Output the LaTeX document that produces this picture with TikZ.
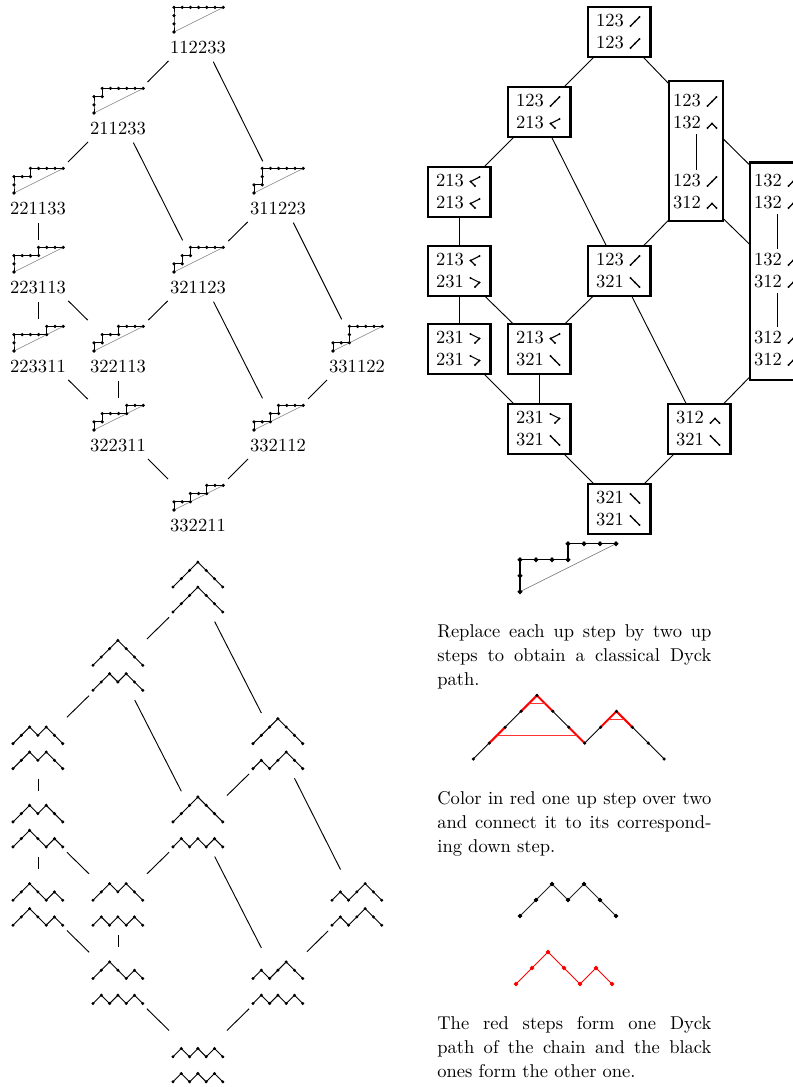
\documentclass[tikz,border=0pt]{standalone}
\pgfdeclarelayer{bg}
\pgfsetlayers{bg,main}
\tikzset{
  lab/.style={inner sep=0pt, font=\fontsize{10}{12}\selectfont},
  lbox/.style={draw=none, minimum width=32.4pt, minimum height=29.16pt, inner sep=0pt, outer sep=0pt},
  dbox/.style={draw=none, minimum width=28.08pt, minimum height=31.32pt, inner sep=0pt, outer sep=0pt},
  edge/.style={line width=0.5pt, shorten <=2.2pt, shorten >=2.2pt},
  redge/.style={line width=0.5pt},
  pbox/.style={draw, line width=1.6pt, fill=white, minimum width=33.5pt, minimum height=27pt, inner sep=0pt},
  tallbox/.style={draw, line width=1.6pt, fill=white, inner sep=0pt},
  itm/.style={draw=none, minimum width=26pt, minimum height=24pt, inner sep=0pt, outer sep=0pt},
  latline/.style={line width=0.5pt},
  diag/.style={gray, line width=0.3pt},
  symline/.style={line width=0.6pt},
  para/.style={text width=148pt, align=justify, inner sep=0pt, anchor=north west, font=\fontsize{10}{13}\selectfont},
}
% small rational path above a label
\newcommand\lnode[5]{%
  \node[lab] (#1) at (#2,#3) {#4};
  \node[lbox] (#1b) at (#2,{#3-17}) {};
  \begin{scope}[shift={({#2-24},{#3-16})},x=4.43pt,y=4.43pt]
    \draw[diag] (0,0) -- (6,3);
    \draw[latline] plot[mark=*,mark size=0.6pt] coordinates {#5};
  \end{scope}}
% two Dyck paths
\newcommand\dnode[5]{%
  \node[dbox] (#1) at (#2,{#3-23}) {};
  \begin{scope}[shift={({#2-25},{#3-25})},x=4.48pt,y=4.48pt]
    \draw[latline] plot[mark=*,mark size=0.55pt] coordinates {#4};
  \end{scope}
  \begin{scope}[shift={({#2-25},{#3})},x=4.48pt,y=4.48pt]
    \draw[latline] plot[mark=*,mark size=0.55pt] coordinates {#5};
  \end{scope}}
% binary-tree symbols; argument = bottom-left point (px, y down)
\newcommand\trdots[3]{\fill #1 circle (0.55pt) #2 circle (0.55pt) #3 circle (0.55pt);}
\newcommand\symup[1]{\begin{scope}[shift={#1}]\draw[symline] (9,-9) -- (4.5,-4.5) -- (0,0); \trdots{(9,-9)}{(4.5,-4.5)}{(0,0)}\end{scope}}
\newcommand\symdown[1]{\begin{scope}[shift={#1}]\draw[symline] (0,-9) -- (4.5,-4.5) -- (9,0); \trdots{(0,-9)}{(4.5,-4.5)}{(9,0)}\end{scope}}
\newcommand\symlt[1]{\begin{scope}[shift={#1}]\draw[symline] (9,-9) -- (0,-4.5) -- (4.5,0); \trdots{(9,-9)}{(0,-4.5)}{(4.5,0)}\end{scope}}
\newcommand\symgt[1]{\begin{scope}[shift={#1}]\draw[symline] (0,-9) -- (9,-4.5) -- (4.5,0); \trdots{(0,-9)}{(9,-4.5)}{(4.5,0)}\end{scope}}
\newcommand\symcap[1]{\begin{scope}[shift={#1}]\draw[symline] (0,0) -- (4.5,-4.5) -- (9,0); \trdots{(0,0)}{(4.5,-4.5)}{(9,0)}\end{scope}}
% item: name, cx, cy, num1, sym1, num2, sym2
\newcommand\boxitem[7]{%
  \node[itm] (#1) at (#2,#3) {};
  \node[lab] (#1a) at ({#2-9},{#3-11}) {#4};
  \node[lab] (#1b) at ({#2-9},{#3+11}) {#6};
  #5{({#2+11.5},{#3-6})}
  #7{({#2+11.5},{#3+16})}}
\begin{document}
\begin{tikzpicture}[x=0.54pt,y=-0.54pt]
\useasboundingbox (0,0) rectangle (793,1087);
% ---------- top-left lattice ----------
\lnode{t1}{198}{48}{112233}{(0,0) (0,1) (0,2) (0,3) (1,3) (2,3) (3,3) (4,3) (5,3) (6,3)}
\lnode{t2}{118}{129}{211233}{(0,0) (0,1) (0,2) (1,2) (1,3) (2,3) (3,3) (4,3) (5,3) (6,3)}
\lnode{t3}{38}{209}{221133}{(0,0) (0,1) (0,2) (1,2) (2,2) (2,3) (3,3) (4,3) (5,3) (6,3)}
\lnode{t4}{278}{209}{311223}{(0,0) (0,1) (1,1) (1,2) (1,3) (2,3) (3,3) (4,3) (5,3) (6,3)}
\lnode{t5}{38}{288}{223113}{(0,0) (0,1) (0,2) (1,2) (2,2) (3,2) (3,3) (4,3) (5,3) (6,3)}
\lnode{t6}{198}{288}{321123}{(0,0) (0,1) (1,1) (1,2) (2,2) (2,3) (3,3) (4,3) (5,3) (6,3)}
\lnode{t7}{38}{367}{223311}{(0,0) (0,1) (0,2) (1,2) (2,2) (3,2) (4,2) (4,3) (5,3) (6,3)}
\lnode{t8}{118}{367}{322113}{(0,0) (0,1) (1,1) (1,2) (2,2) (3,2) (3,3) (4,3) (5,3) (6,3)}
\lnode{t9}{357}{367}{331122}{(0,0) (0,1) (1,1) (2,1) (2,2) (2,3) (3,3) (4,3) (5,3) (6,3)}
\lnode{t10}{118}{446}{322311}{(0,0) (0,1) (1,1) (1,2) (2,2) (3,2) (4,2) (4,3) (5,3) (6,3)}
\lnode{t11}{278}{446}{332112}{(0,0) (0,1) (1,1) (2,1) (2,2) (3,2) (3,3) (4,3) (5,3) (6,3)}
\lnode{t12}{198}{526}{332211}{(0,0) (0,1) (1,1) (2,1) (2,2) (3,2) (4,2) (4,3) (5,3) (6,3)}
\foreach \a/\b in {t1/t2,t1/t4,t2/t3,t2/t6,t3/t5,t4/t6,t4/t9,t5/t7,t5/t8,t6/t8,t6/t11,t7/t10,t8/t10,t9/t11,t10/t12,t11/t12}
  \draw[edge] (\a b) -- (\b b);
% ---------- bottom-left lattice ----------
\def\UUUDDD{(0,0) (1,1) (2,2) (3,3) (4,2) (5,1) (6,0)}
\def\UUDUDD{(0,0) (1,1) (2,2) (3,1) (4,2) (5,1) (6,0)}
\def\UUDDUD{(0,0) (1,1) (2,2) (3,1) (4,0) (5,1) (6,0)}
\def\UDUUDD{(0,0) (1,1) (2,0) (3,1) (4,2) (5,1) (6,0)}
\def\UDUDUD{(0,0) (1,1) (2,0) (3,1) (4,0) (5,1) (6,0)}
\dnode{b1}{198}{612}{\UUUDDD}{\UUUDDD}
\dnode{b2}{118}{690.3}{\UUUDDD}{\UUDUDD}
\dnode{b3}{38}{768.6}{\UUDUDD}{\UUDUDD}
\dnode{b4}{278}{768.6}{\UUUDDD}{\UDUUDD}
\dnode{b5}{38}{846.9}{\UUDUDD}{\UUDDUD}
\dnode{b6}{198}{846.9}{\UUUDDD}{\UDUDUD}
\dnode{b7}{38}{925.2}{\UUDDUD}{\UUDDUD}
\dnode{b8}{118}{925.2}{\UUDUDD}{\UDUDUD}
\dnode{b9}{357}{925.2}{\UDUUDD}{\UDUUDD}
\dnode{b10}{118}{1003.5}{\UUDDUD}{\UDUDUD}
\dnode{b11}{278}{1003.5}{\UDUUDD}{\UDUDUD}
\dnode{b12}{198}{1081.8}{\UDUDUD}{\UDUDUD}
\foreach \a/\b in {b1/b2,b1/b4,b2/b3,b2/b6,b3/b5,b4/b6,b4/b9,b5/b7,b5/b8,b6/b8,b6/b11,b7/b10,b8/b10,b9/b11,b10/b12,b11/b12}
  \draw[edge] (\a) -- (\b);
% ---------- right lattice ----------
\node[pbox] (A) at (619,32) {};
\node[pbox] (B) at (539,112) {};
\node[tallbox, minimum width=29.16pt, minimum height=75.6pt] (C) at (696,151) {};
\node[pbox] (D) at (459,192) {};
\node[tallbox, minimum width=29.16pt, minimum height=117.7pt] (E) at (777,271) {};
\node[pbox] (F) at (459,271) {};
\node[pbox] (G) at (619,271) {};
\node[pbox] (H) at (459,349) {};
\node[pbox] (I) at (539,349) {};
\node[pbox] (J) at (539,429) {};
\node[pbox] (K) at (699,429) {};
\node[pbox] (L) at (619,509) {};
\boxitem{Ai}{619}{32}{123}{\symup}{123}{\symup}
\boxitem{Bi}{539}{112}{123}{\symup}{213}{\symlt}
\boxitem{C1}{696}{112}{123}{\symup}{132}{\symcap}
\boxitem{C2}{696}{192}{123}{\symup}{312}{\symcap}
\boxitem{Di}{459}{192}{213}{\symlt}{213}{\symlt}
\boxitem{E1}{777}{192}{132}{\symcap}{132}{\symcap}
\boxitem{E2}{777}{271}{132}{\symcap}{312}{\symcap}
\boxitem{E3}{777}{349}{312}{\symcap}{312}{\symcap}
\boxitem{Fi}{459}{271}{213}{\symlt}{231}{\symgt}
\boxitem{Gi}{619}{271}{123}{\symup}{321}{\symdown}
\boxitem{Hi}{459}{349}{231}{\symgt}{231}{\symgt}
\boxitem{Ii}{539}{349}{213}{\symlt}{321}{\symdown}
\boxitem{Ji}{539}{429}{231}{\symgt}{321}{\symdown}
\boxitem{Ki}{699}{429}{312}{\symcap}{321}{\symdown}
\boxitem{Li}{619}{509}{321}{\symdown}{321}{\symdown}
\draw[redge] (C1) -- (C2);
\draw[redge] (E1) -- (E2);
\draw[redge] (E2) -- (E3);
\begin{pgfonlayer}{bg}
\foreach \a/\b in {A/B,Ai/C1,B/D,B/G,C1/E1,C2/E2,C2/G,D/F,F/H,F/I,G/I,G/K,H/J,I/J,J/L,K/L,E3/K}
  \draw[redge] (\a.center) -- (\b.center);
\end{pgfonlayer}
% ---------- rational path ----------
\coordinate (rp) at (520,591.7);
\begin{scope}[shift={(rp)},x=8.64pt,y=8.64pt]
  \draw[diag, line width=0.4pt] (0,0) -- (6,3);
  \draw[line width=0.7pt] plot[mark=*,mark size=0.95pt] coordinates {(0,0) (0,1) (0,2) (1,2) (2,2) (3,2) (3,3) (4,3) (5,3) (6,3)};
\end{scope}
\node[para] (p1) at (437,624) {Replace each up step by two up\linebreak steps to obtain a classical Dyck\linebreak path.};
% ---------- colored Dyck path ----------
\coordinate (cp) at (473.3,759);
\begin{scope}[shift={(cp)},x=8.59pt,y=8.59pt]
  \draw[line width=0.5pt] (0,0)--(1,1) (2,2)--(3,3) (5,3)--(6,2) (7,1)--(8,2) (10,2)--(11,1)--(12,0);
  \draw[red, line width=1.1pt] (1,1)--(2,2) (3,3)--(4,4)--(5,3) (6,2)--(7,1) (8,2)--(9,3)--(10,2);
  \draw[red!80, line width=0.6pt] (3.5,3.5)--(4.5,3.5) (1.5,1.5)--(6.5,1.5) (8.5,2.5)--(9.5,2.5);
  \foreach \p in {(0,0),(1,1),(2,2),(3,3),(4,4),(5,3),(6,2),(7,1),(8,2),(9,3),(10,2),(11,1),(12,0)}
    \fill \p circle (0.95pt);
\end{scope}
\node[para] (p2) at (437,791) {Color in red one up step over two\linebreak and connect it to its correspond-\linebreak ing down step.};
% ---------- split paths ----------
\coordinate (kp) at (520,916);
\begin{scope}[shift={(kp)},x=8.64pt,y=8.64pt]
  \draw[black!85, line width=0.5pt] plot[mark=*,mark size=0.95pt, mark options={black}] coordinates {(0,0) (1,1) (2,2) (3,1) (4,2) (5,1) (6,0)};
\end{scope}
\coordinate (qp) at (516,984);
\begin{scope}[shift={(qp)},x=8.64pt,y=8.64pt]
  \draw[red, line width=0.5pt] plot[mark=*,mark size=0.95pt] coordinates {(0,0) (1,1) (2,2) (3,1) (4,0) (5,1) (6,0)};
\end{scope}
\node[para] (p3) at (437,1016) {The red steps form one Dyck\linebreak path of the chain and the black\linebreak ones form the other one.};
\end{tikzpicture}
\end{document}
